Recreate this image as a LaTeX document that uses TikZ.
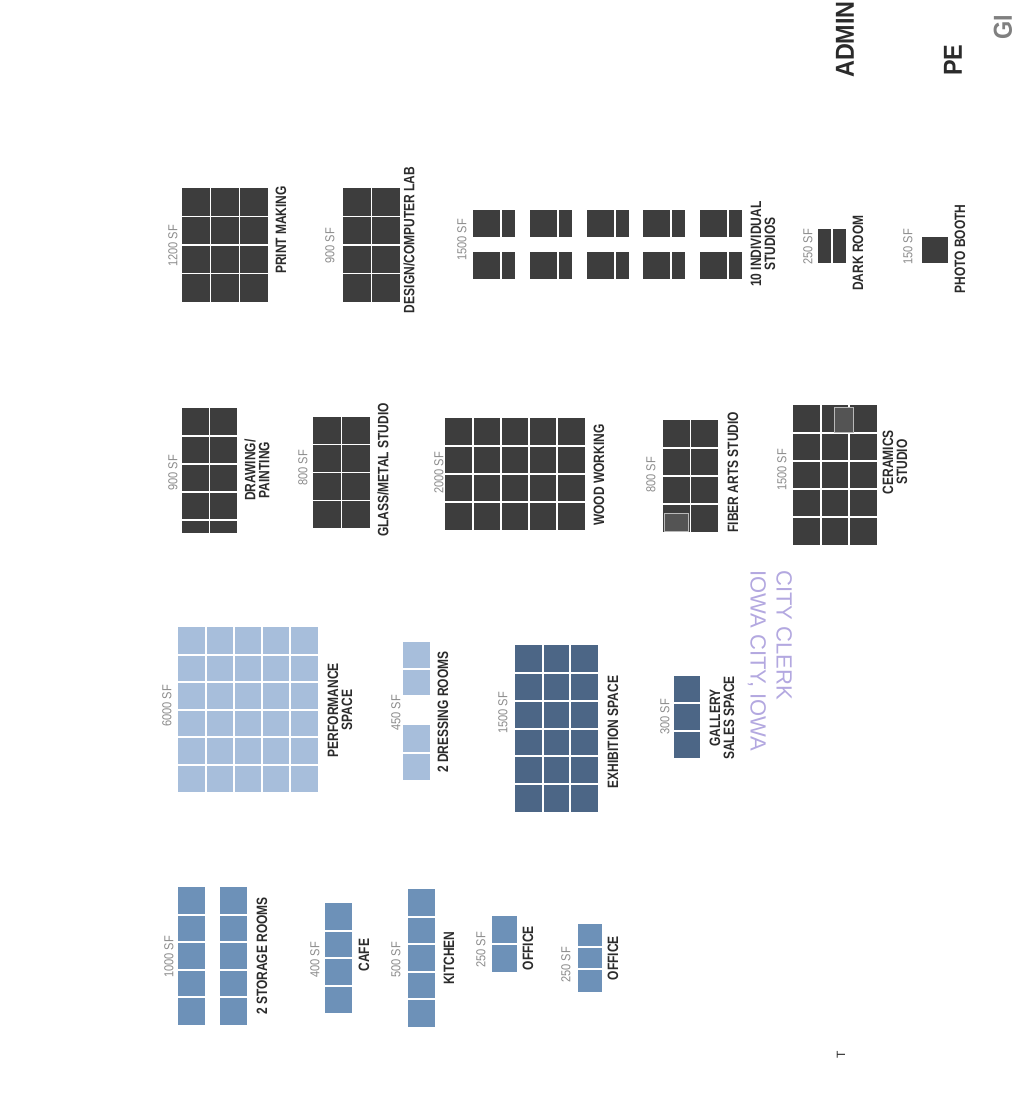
\documentclass[tikz,border=0pt]{standalone}
\usepackage{fontspec}
\setmainfont{Liberation Sans}
\newfontfamily\condsans[FakeStretch=0.8]{Liberation Sans}
\newfontfamily\areasans[FakeStretch=0.85]{Liberation Sans}
\newfontfamily\headsans[FakeStretch=0.9]{Liberation Sans}

\definecolor{studiogray}{HTML}{3D3D3D}
\definecolor{perfblue}{HTML}{A7BEDB}
\definecolor{exhibblue}{HTML}{4C6686}
\definecolor{serviceblue}{HTML}{6D91B8}
\definecolor{labelgray}{HTML}{2B2B2B}
\definecolor{areagray}{HTML}{8C8C8C}
\definecolor{stamppurple}{HTML}{B3A8E0}

\newcommand{\roomfont}{\condsans\bfseries\fontsize{15}{14}\selectfont}
\newcommand{\areafont}{\areasans\fontsize{13}{14}\selectfont}
\newcommand{\headfont}{\headsans\bfseries\fontsize{26}{28}\selectfont}

\tikzset{
  studio/.style={fill=studiogray},
  perf/.style={fill=perfblue},
  exhib/.style={fill=exhibblue},
  service/.style={fill=serviceblue},
  thinline/.style={draw=white, line width=1.1pt},
  wideline/.style={draw=white, line width=2pt},
  subbox/.style={draw=gray!55, fill=studiogray!88!white, line width=0.9pt},
  roomlabel/.style={rotate=90, font=\roomfont, text=labelgray, inner sep=0pt, align=center},
  arealabel/.style={rotate=90, font=\areafont, text=areagray, inner sep=0pt},
  headlabel/.style={rotate=90, font=\headfont, inner sep=0pt, anchor=west}
}

% fill a block and split it into cols x rows cells
\newcommand{\roomgrid}[8]{%
  \fill[#7] (#1,#2) rectangle (#3,#4);
  \foreach \i in {1,...,#5}{\ifnum\i<#5 \draw[#8] ({#1+(#3-#1)*\i/#5},#2) -- ({#1+(#3-#1)*\i/#5},#4);\fi}
  \foreach \j in {1,...,#6}{\ifnum\j<#6 \draw[#8] (#1,{#2+(#4-#2)*\j/#6}) -- (#3,{#2+(#4-#2)*\j/#6});\fi}
}

\begin{document}
\begin{tikzpicture}[x=1pt, y=-1pt]
  \useasboundingbox (0,0) rectangle (1012,1099);
  \fill[white] (0,0) rectangle (1012,1099);
  \clip (0,0) rectangle (1012,1099);

  % cut-off headings at the top
  \node[headlabel, text=labelgray] (admin) at (845,78) {ADMINI};
  \node[headlabel, text=labelgray] (perfhead) at (953,76) {PE};
  \node[headlabel, text=gray] (galhead) at (1003,40) {GI};

  % studios
  \roomgrid{182}{188}{268}{302}{3}{4}{studio}{thinline}
  \node[arealabel] (printsf) at (173,246) {1200 SF};
  \node[roomlabel] (print) at (281,230) {PRINT MAKING};

  \roomgrid{343}{188}{400}{302}{2}{4}{studio}{thinline}
  \node[arealabel] (designsf) at (330,246) {900 SF};
  \node[roomlabel] (design) at (409,240) {DESIGN/COMPUTER LAB};

  \foreach \sx in {473,530,587,643,700}{
    \foreach \sy in {210,252}{
      \fill[studio] (\sx,\sy) rectangle (\sx+42,\sy+27);
      \draw[thinline] (\sx+28,\sy) -- (\sx+28,\sy+27);
    }
  }
  \node[arealabel] (indivsf) at (462,240) {1500 SF};
  \node[roomlabel] (indiv) at (763,244) {10 INDIVIDUAL\\STUDIOS};

  \roomgrid{818}{229}{846}{263}{2}{1}{studio}{thinline}
  \node[arealabel] (darksf) at (808,247) {250 SF};
  \node[roomlabel] (dark) at (858,253) {DARK ROOM};

  \roomgrid{922}{237}{948}{263}{1}{1}{studio}{thinline}
  \node[arealabel] (photosf) at (908,247) {150 SF};
  \node[roomlabel] (photo) at (960,249) {PHOTO BOOTH};

  \roomgrid{182}{408}{237}{520}{2}{4}{studio}{thinline}
  \roomgrid{182}{520}{237}{533}{2}{1}{studio}{thinline}
  \draw[thinline] (182,520) -- (237,520);
  \node[arealabel] (drawsf) at (173,473) {900 SF};
  \node[roomlabel] (draw) at (257,470) {DRAWING/\\PAINTING};

  \roomgrid{313}{417}{370}{528}{2}{4}{studio}{thinline}
  \node[arealabel] (glasssf) at (303,468) {800 SF};
  \node[roomlabel] (glass) at (383,470) {GLASS/METAL STUDIO};

  \roomgrid{445}{418}{585}{530}{5}{4}{studio}{thinline}
  \node[arealabel] (woodsf) at (439,473) {2000 SF};
  \node[roomlabel] (wood) at (599,475) {WOOD WORKING};

  \roomgrid{663}{420}{718}{532}{2}{4}{studio}{thinline}
  \draw[subbox] (664,513) rectangle (688,531);
  \node[arealabel] (fibersf) at (651,475) {800 SF};
  \node[roomlabel] (fiber) at (733,472) {FIBER ARTS STUDIO};

  \roomgrid{793}{405}{877}{545}{3}{5}{studio}{thinline}
  \draw[subbox] (834,407) rectangle (853,432);
  \node[arealabel] (ceramsf) at (782,470) {1500 SF};
  \node[roomlabel] (ceram) at (895,462) {CERAMICS\\STUDIO};

  % performance and gallery
  \roomgrid{178}{627}{318}{792}{5}{6}{perf}{wideline}
  \node[arealabel] (perfsf) at (167,706) {6000 SF};
  \node[roomlabel] (perf) at (340,710) {PERFORMANCE\\SPACE};

  \roomgrid{403}{642}{430}{695}{1}{2}{perf}{wideline}
  \roomgrid{403}{725}{430}{780}{1}{2}{perf}{wideline}
  \node[arealabel] (dresssf) at (396,713) {450 SF};
  \node[roomlabel] (dress) at (443,712) {2 DRESSING ROOMS};

  \roomgrid{515}{645}{598}{812}{3}{6}{exhib}{wideline}
  \node[arealabel] (exhibsf) at (503,713) {1500 SF};
  \node[roomlabel] (exhib) at (613,732) {EXHIBITION SPACE};

  \roomgrid{674}{676}{700}{758}{1}{3}{exhib}{wideline}
  \node[arealabel] (salessf) at (665,717) {300 SF};
  \node[roomlabel] (sales) at (722,718) {GALLERY\\SALES SPACE};

  % support rooms
  \roomgrid{178}{887}{205}{1025}{1}{5}{service}{wideline}
  \roomgrid{220}{887}{247}{1025}{1}{5}{service}{wideline}
  \node[arealabel] (storesf) at (169,957) {1000 SF};
  \node[roomlabel] (store) at (262,956) {2 STORAGE ROOMS};

  \roomgrid{325}{903}{352}{1013}{1}{4}{service}{wideline}
  \node[arealabel] (cafesf) at (315,960) {400 SF};
  \node[roomlabel] (cafe) at (364,955) {CAFE};

  \roomgrid{408}{889}{435}{1027}{1}{5}{service}{wideline}
  \node[arealabel] (kitchsf) at (396,960) {500 SF};
  \node[roomlabel] (kitch) at (449,958) {KITCHEN};

  \roomgrid{492}{916}{517}{972}{1}{2}{service}{wideline}
  \node[arealabel] (officeasf) at (481,950) {250 SF};
  \node[roomlabel] (officea) at (528,948) {OFFICE};

  \roomgrid{578}{924}{602}{992}{1}{3}{service}{wideline}
  \node[arealabel] (officebsf) at (566,965) {250 SF};
  \node[roomlabel] (officeb) at (613,958) {OFFICE};

  % stamp and page mark
  \node[rotate=-90, anchor=west, align=left, text=stamppurple, font=\fontsize{22}{26}\selectfont, inner sep=0pt]
    (stamp) at (770,570) {CITY CLERK\\IOWA CITY, IOWA};
  \node[rotate=90, text=labelgray, font=\fontsize{12}{12}\selectfont, inner sep=0pt] (tmark) at (841,1055) {T};
\end{tikzpicture}
\end{document}
